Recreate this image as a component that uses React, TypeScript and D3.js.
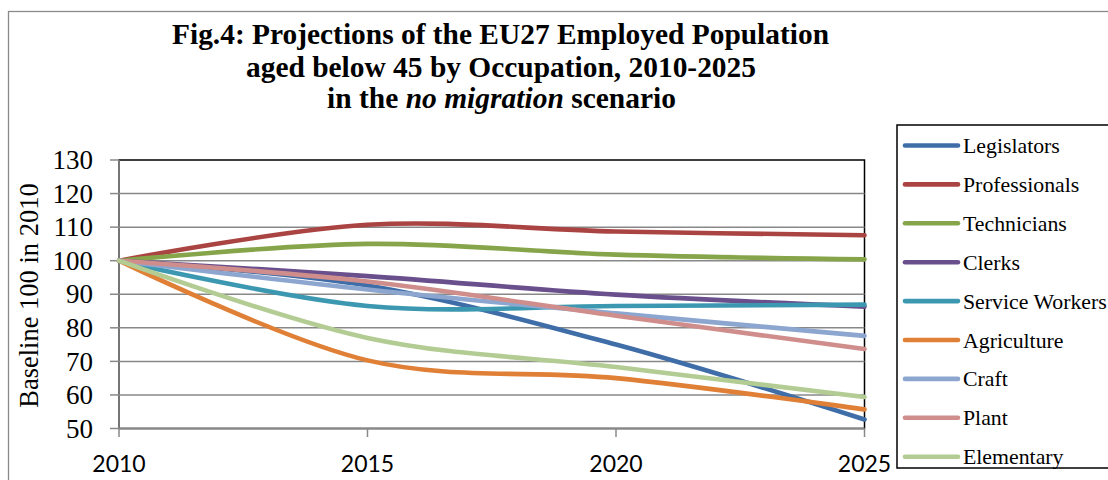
import React from "react";
import * as d3 from "d3";

const years = [2010, 2015, 2020, 2025];
const yTicks = [50, 60, 70, 80, 90, 100, 110, 120, 130];

const seriesNames = [
  "Legislators",
  "Professionals",
  "Technicians",
  "Clerks",
  "Service Workers",
  "Agriculture",
  "Craft",
  "Plant",
  "Elementary",
];
const seriesColors = [
  "#3F6DA8",
  "#AA4442",
  "#86A54A",
  "#6A4F8D",
  "#3C98B0",
  "#E07F36",
  "#8CA6CF",
  "#CF8E8C",
  "#B3CC93",
];
const legislators = [100, 92.6, 75.0, 52.7];
const professionals = [100, 110.7, 108.7, 107.6];
const technicians = [100, 105.0, 101.8, 100.4];
const clerks = [100, 95.4, 89.9, 86.3];
const serviceWorkers = [100, 86.5, 86.5, 86.9];
const agriculture = [100, 70.3, 65.0, 55.7];
const craft = [100, 91.4, 84.3, 77.6];
const plant = [100, 93.8, 83.6, 73.7];
const elementary = [100, 77.0, 68.3, 59.4];

const seriesValues = [
  legislators,
  professionals,
  technicians,
  clerks,
  serviceWorkers,
  agriculture,
  craft,
  plant,
  elementary,
];

const W = 1108;
const H = 480;
const plotL = 119;
const plotR = 864.5;
const plotT = 160;
const plotB = 428.5;

export default function App() {
  const x = d3.scaleLinear().domain([2010, 2025]).range([plotL, plotR]);
  const y = d3.scaleLinear().domain([50, 130]).range([plotB, plotT]);
  const line = d3
    .line<number>()
    .x((_, i) => x(years[i]))
    .y((v) => y(v))
    .curve(d3.curveCardinal.tension(0));

  const serif = "'Liberation Serif', 'Times New Roman', serif";
  const legendTop = 145.5;
  const legendStep = 38.9;

  return (
    <svg
      width={W}
      height={H}
      style={{ position: "absolute", left: 0, top: 0, background: "#fff" }}
    >
      <rect x={0} y={0} width={W} height={H} fill="#fff" />
      {/* outer chart border */}
      <rect
        x={8.5}
        y={11.5}
        width={W + 20}
        height={H + 20}
        fill="none"
        stroke="#8a8a8a"
        strokeWidth={1.3}
      />
      {/* title */}
      <g fontFamily={serif} fontWeight="bold" fontSize={29} fill="#000" textAnchor="middle">
        <text x={500.5} y={44} textLength={657} lengthAdjust="spacingAndGlyphs">
          Fig.4: Projections of the EU27 Employed Population
        </text>
        <text x={501} y={76.5} textLength={510} lengthAdjust="spacingAndGlyphs">
          aged below 45 by Occupation, 2010-2025
        </text>
        <text x={501.5} y={108} textLength={349} lengthAdjust="spacingAndGlyphs">
          in the <tspan fontStyle="italic">no migration</tspan> scenario
        </text>
      </g>

      {/* plot area border */}
      <rect
        x={plotL}
        y={plotT}
        width={plotR - plotL}
        height={plotB - plotT}
        fill="none"
        stroke="#000"
        strokeWidth={1.5}
      />
      {/* gridlines */}
      {yTicks.map((t) =>
        t === 130 ? null : (
          <line
            key={"g" + t}
            x1={plotL}
            x2={plotR}
            y1={y(t)}
            y2={y(t)}
            stroke="#888"
            strokeWidth={1.5}
          />
        )
      )}
      {/* y axis line + ticks */}
      <line x1={plotL} x2={plotL} y1={plotT} y2={plotB} stroke="#888" strokeWidth={1.5} />
      {yTicks.map((t) => (
        <line
          key={"yt" + t}
          x1={plotL - 9}
          x2={plotL}
          y1={y(t)}
          y2={y(t)}
          stroke="#888"
          strokeWidth={1.5}
        />
      ))}
      {yTicks.map((t) => (
        <text
          key={"yl" + t}
          x={93}
          y={y(t)}
          dy="0.34em"
          textAnchor="end"
          fontFamily={serif}
          fontSize={27}
          fill="#000"
        >
          {t}
        </text>
      ))}
      {/* x axis line + ticks */}
      <line x1={plotL} x2={plotR} y1={plotB} y2={plotB} stroke="#888" strokeWidth={1.5} />
      {years.map((yr) => (
        <line
          key={"xt" + yr}
          x1={x(yr)}
          x2={x(yr)}
          y1={plotB}
          y2={plotB + 8.5}
          stroke="#888"
          strokeWidth={1.5}
        />
      ))}
      {years.map((yr) => (
        <text
          key={"xl" + yr}
          x={x(yr)}
          y={471.5}
          textAnchor="middle"
          fontFamily="Lato, 'Liberation Sans', sans-serif"
          fontSize={23}
          fill="#000"
        >
          {yr}
        </text>
      ))}
      {/* y axis title */}
      <text
        transform={`translate(38,${295.5}) rotate(-90)`}
        textAnchor="middle"
        fontFamily={serif}
        fontSize={26.5}
        fill="#000"
      >
        Baseline 100 in 2010
      </text>

      {/* series lines */}
      {seriesValues.map((vals, i) => (
        <path
          key={"s" + i}
          d={line(vals) || ""}
          fill="none"
          stroke={seriesColors[i]}
          strokeWidth={4.6}
          strokeLinecap="round"
          strokeLinejoin="round"
        />
      ))}

      {/* legend */}
      <rect
        x={897}
        y={125}
        width={260}
        height={343}
        fill="#fff"
        stroke="#000"
        strokeWidth={1.5}
      />
      {seriesNames.map((name, i) => {
        const cy = legendTop + i * legendStep;
        return (
          <g key={"lg" + i}>
            <line
              x1={905}
              x2={958}
              y1={cy}
              y2={cy}
              stroke={seriesColors[i]}
              strokeWidth={4.6}
              strokeLinecap="round"
            />
            <text x={963} y={cy + 7.5} fontFamily={serif} fontSize={21.8} fill="#000">
              {name}
            </text>
          </g>
        );
      })}
    </svg>
  );
}
